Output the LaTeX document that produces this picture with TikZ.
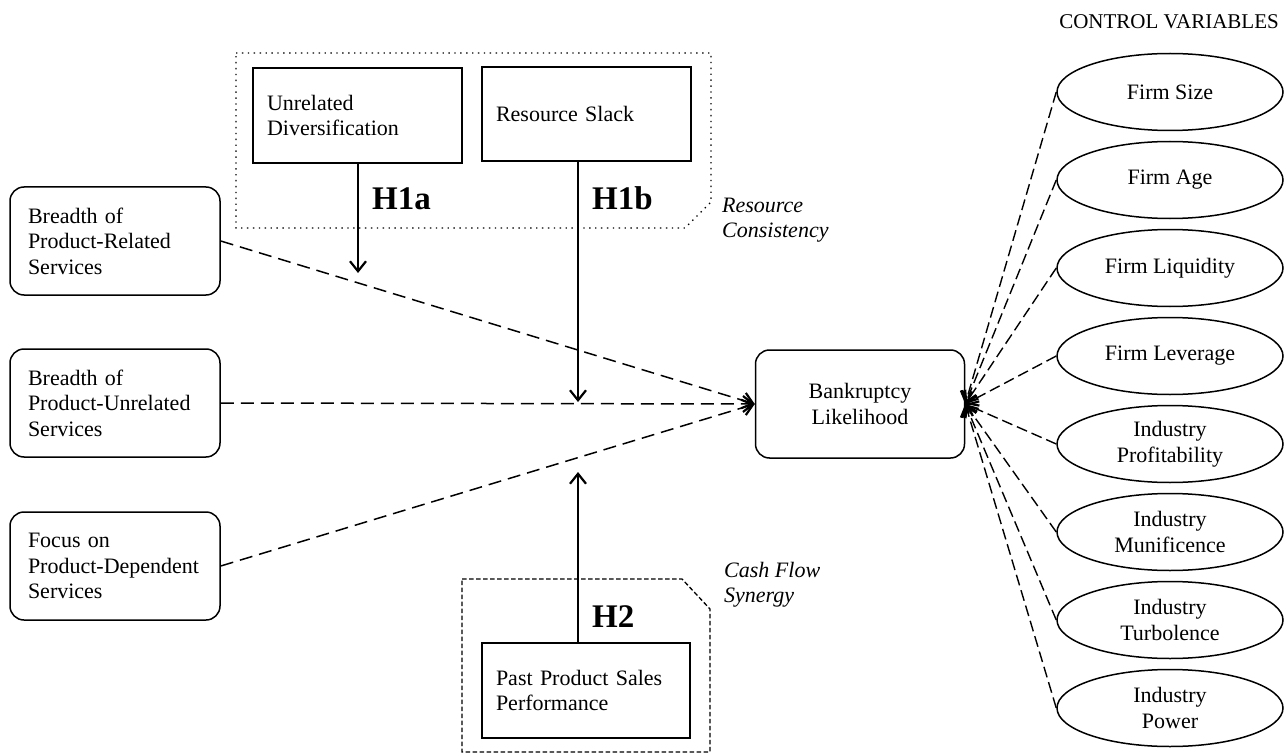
\documentclass[tikz,border=0pt]{standalone}
\usepackage{fontspec}
\setmainfont{Liberation Serif}
\usetikzlibrary{arrows.meta,shapes.geometric}
\begin{document}
\begin{tikzpicture}[x=1pt,y=-1pt,
  every node/.style={font=\fontsize{22}{25.5}\selectfont},
  lbox/.style={draw, line width=1.5pt, rounded corners=14pt, minimum height=108pt, text width=174pt, inner xsep=18pt, inner ysep=0pt, align=left},
  bkbox/.style={draw, line width=1.5pt, rounded corners=14pt, minimum height=108pt, minimum width=209pt, align=center},
  sbox/.style={draw, line width=1.5pt, minimum height=95pt, text width=181pt, inner xsep=14pt, inner ysep=0pt, align=left},
  cv/.style={draw, ellipse, line width=1.5pt, minimum width=226pt, minimum height=77pt, inner sep=0pt, align=center},
  hyp/.style={font=\fontsize{33}{36}\selectfont\bfseries, anchor=base west, inner sep=0pt},
  lab/.style={font=\fontsize{22}{25}\selectfont\itshape, anchor=base west, inner sep=0pt},
  tipend/.style={-{Straight Barb[length=10pt,width=16pt,line width=2.2pt]}},
  dashc/.style={line width=1.5pt, dash pattern=on 13pt off 7pt, tipend},
  ctl/.style={line width=1.4pt, dash pattern=on 11pt off 5pt, tipend},
  mod/.style={line width=1.5pt, tipend},
  dotreg/.style={line width=1.4pt, dash pattern=on 1.4pt off 4.5pt},
  dashreg/.style={line width=1.3pt, dash pattern=on 4.5pt off 2.5pt}
]
\useasboundingbox (0,0) rectangle (1287,754);

% regions
\draw[dotreg] (236,53) -- (711,53) -- (711,202) -- (685,228) -- (236,228) -- cycle;
\draw[dashreg] (462,579) -- (682,579) -- (710,609) -- (710,752) -- (462,752) -- cycle;

% moderator boxes
\node[sbox] (ud) at (357.5,115.5) {Unrelated\\Diversification};
\node[sbox, minimum height=94pt] (rs) at (586.5,114) {Resource Slack};
\node[sbox, text width=180pt] (pp) at (586,690.5) {Past Product Sales\\Performance};

% independent variables
\node[lbox] (b1) at (115,241) {Breadth of\\Product-Related\\Services};
\node[lbox] (b2) at (115,403) {Breadth of\\Product-Unrelated\\Services};
\node[lbox] (b3) at (115,566) {Focus on\\Product-Dependent\\Services};

% dependent
\node[bkbox] (bk) at (860,404) {Bankruptcy\\Likelihood};

% control variables
\node[anchor=base east, inner sep=0pt, font=\fontsize{21}{24}\selectfont] (cvt) at (1279,29) {CONTROL VARIABLES};
\node[cv] (c1) at (1170,92) {Firm Size};
\node[cv] (c2) at (1170,180) {Firm Age};
\node[cv] (c3) at (1170,268) {Firm Liquidity};
\node[cv] (c4) at (1170,356) {Firm Leverage};
\node[cv] (c5) at (1170,444) {Industry\\Profitability};
\node[cv] (c6) at (1170,532) {Industry\\Munificence};
\node[cv] (c7) at (1170,620) {Industry\\Turbolence};
\node[cv] (c8) at (1170,708) {Industry\\Power};

% labels
\node[hyp] (h1a) at (372,210) {H1a};
\node[hyp] (h1b) at (592,210) {H1b};
\node[hyp] (h2) at (592,627) {H2};
\node[lab] (rc1) at (722,212) {Resource};
\node[lab] (rc2) at (722,237) {Consistency};
\node[lab] (cf1) at (724,577) {Cash Flow};
\node[lab] (cf2) at (724,602) {Synergy};

% main dashed arrows
\draw[dashc] (b1.east) -- (bk.west);
\draw[dashc] (b2.east) -- (bk.west);
\draw[dashc] (b3.east) -- (bk.west);

% moderating arrows
\coordinate (a1) at (358,273);
\coordinate (a2) at (578,402);
\coordinate (a3) at (578,472);
\draw[mod] (ud.south -| a1) -- (a1);
\draw[mod] (rs.south -| a2) -- (a2);
\draw[mod] (pp.north -| a3) -- (a3);

% control arrows
\foreach \i in {1,...,8}{
  \draw[ctl] (c\i.west) -- (bk.east);
}
\end{tikzpicture}
\end{document}
